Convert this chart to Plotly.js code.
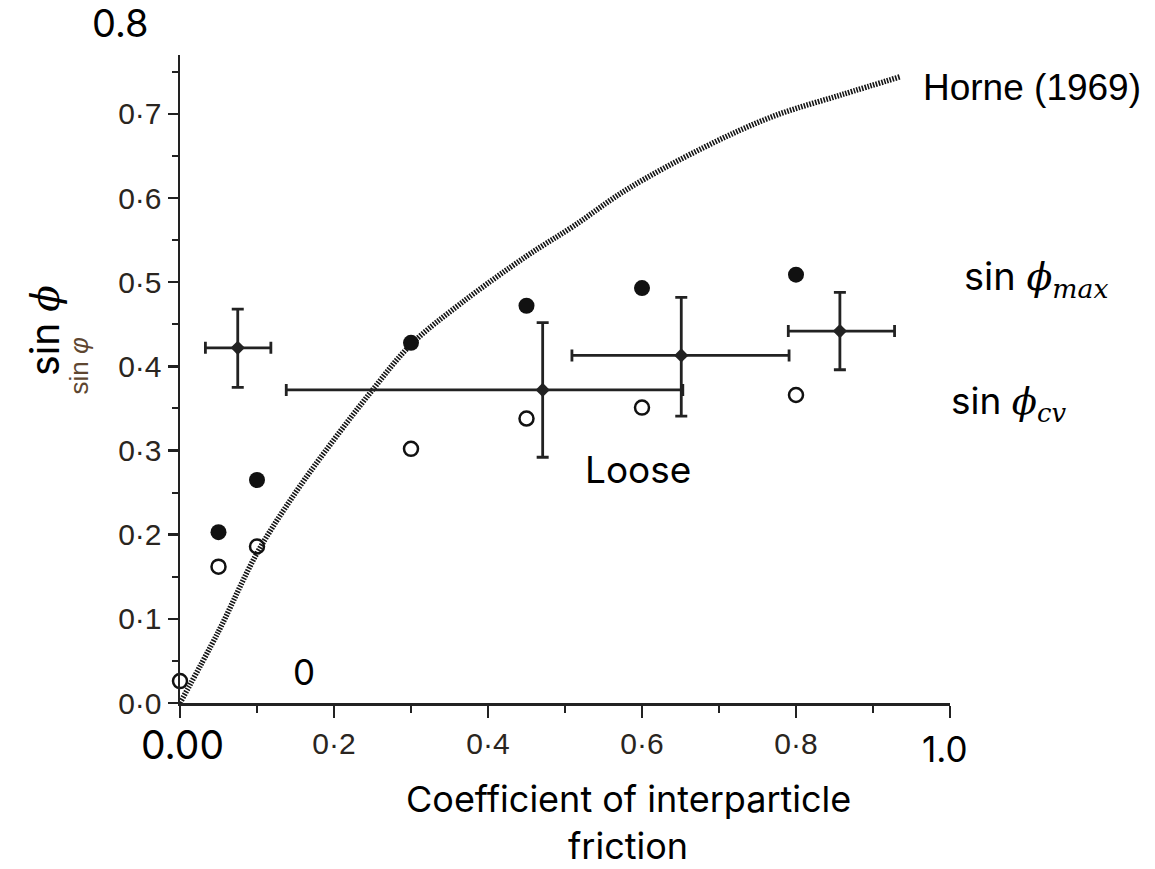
<!DOCTYPE html>
<html>
<head>
<meta charset="utf-8">
<script src="https://cdn.plot.ly/plotly-3.0.1.min.js"></script>
<style>html,body{margin:0;padding:0;background:#fff;}#chart{width:1155px;height:869px;}</style>
</head>
<body>
<div id="chart"></div>
<script>
// Horne (1969) theoretical curve
const horneX = [0.0, 0.05, 0.10, 0.15, 0.20, 0.25, 0.30, 0.365, 0.45, 0.51, 0.58, 0.68, 0.77, 0.86, 0.935];
const horneY = [0.0, 0.085, 0.178, 0.25, 0.313, 0.372, 0.426, 0.475, 0.531, 0.566, 0.610, 0.660, 0.697, 0.723, 0.744];

// sin phi_max (filled circles)
const maxX = [0.05, 0.10, 0.30, 0.45, 0.60, 0.80];
const maxY = [0.203, 0.265, 0.428, 0.472, 0.493, 0.509];

// sin phi_cv (open circles)
const cvX = [0.0, 0.05, 0.10, 0.30, 0.45, 0.60, 0.80];
const cvY = [0.026, 0.162, 0.186, 0.302, 0.338, 0.351, 0.366];

// data with error ranges (crosses)
const crossX = [0.075, 0.471, 0.651, 0.857];
const crossY = [0.422, 0.372, 0.413, 0.442];
const crossYHi = [0.468, 0.452, 0.482, 0.488];
const crossYLo = [0.375, 0.292, 0.341, 0.396];
const crossXLo = [0.033, 0.138, 0.509, 0.790];
const crossXHi = [0.118, 0.653, 0.791, 0.928];

// axis ticks
const xTickVals = [0, 0.2, 0.4, 0.6, 0.8, 1.0];
const xTickText = ['', '0·2', '0·4', '0·6', '0·8', ''];
const yTickVals = [0, 0.1, 0.2, 0.3, 0.4, 0.5, 0.6, 0.7];
const yTickText = ['0·0', '0·1', '0·2', '0·3', '0·4', '0·5', '0·6', '0·7'];

const Y_MAX = 0.77;
const ink = '#222222';
const overlayFont = 'Inter, Roboto, sans-serif';
const scanFont = '"Liberation Sans", Arial, sans-serif';

const traces = [
  {
    x: horneX, y: horneY, type: 'scatter', mode: 'lines',
    line: {color: '#151515', width: 5.5, dash: '1.6px,1.3px', shape: 'spline'},
    hoverinfo: 'skip', cliponaxis: false
  },
  {
    x: crossX, y: crossY, type: 'scatter', mode: 'markers',
    marker: {symbol: 'diamond', size: 11, color: ink},
    error_y: {type: 'data', symmetric: false,
      array: crossYHi.map((v, i) => v - crossY[i]),
      arrayminus: crossY.map((v, i) => v - crossYLo[i]),
      color: ink, thickness: 2.8, width: 6},
    error_x: {type: 'data', symmetric: false,
      array: crossXHi.map((v, i) => v - crossX[i]),
      arrayminus: crossX.map((v, i) => v - crossXLo[i]),
      color: ink, thickness: 2.8, width: 6},
    cliponaxis: false
  },
  {
    x: maxX, y: maxY, type: 'scatter', mode: 'markers',
    marker: {symbol: 'circle', size: 16, color: '#111111'},
    cliponaxis: false
  },
  {
    x: cvX, y: cvY, type: 'scatter', mode: 'markers',
    marker: {symbol: 'circle-open', size: 14, color: '#111111', line: {width: 2.5, color: '#111111'}},
    cliponaxis: false
  }
];

// annotation positioned in data units, converted to paper coordinates
function ann(text, x, y, size, opts) {
  return Object.assign({
    text: text, x: x, y: y / Y_MAX, xref: 'paper', yref: 'paper', showarrow: false,
    xanchor: 'center', yanchor: 'middle',
    font: {family: overlayFont, size: size, color: '#000'}
  }, opts || {});
}

const phiSpan = (t) => '<span style="font-family:\'DejaVu Serif\'"><i>' + t + '</i></span>';

const annotations = [
  ann('0.8', -0.077, 0.808, 38),
  ann('0.00', 0.003, -0.049, 39),
  ann('1.0', 0.994, -0.055, 35),
  ann('0', 0.161, 0.037, 35),
  ann('Loose', 0.595, 0.277, 37),
  ann('Coefficient of interparticle', 0.582, -0.1146, 36),
  ann('friction', 0.582, -0.1695, 36),
  ann('Horne (1969)', 0.962, 0.731, 37, {xanchor: 'left', font: {family: scanFont, size: 37, color: '#000'}}),
  ann('sin ' + phiSpan('ϕ') + '<sub>' + phiSpan('max') + '</sub>', 1.016, 0.505, 38, {xanchor: 'left'}),
  ann('sin ' + phiSpan('ϕ') + '<sub>' + phiSpan('cv') + '</sub>', 0.999, 0.357, 37, {xanchor: 'left'}),
  ann('sin ' + phiSpan('ϕ'), -0.177, 0.443, 39, {textangle: -90}),
  ann('sin <i>φ</i>', -0.131, 0.400, 26, {textangle: -90, font: {family: scanFont, size: 26, color: '#5e4630'}})
];

const layout = {
  width: 1155, height: 869,
  margin: {l: 180, r: 205, t: 55, b: 166, pad: 0},
  paper_bgcolor: '#ffffff', plot_bgcolor: '#ffffff',
  showlegend: false,
  xaxis: {
    range: [0, 1.0], showgrid: false, zeroline: false,
    showline: true, linecolor: ink, linewidth: 2.5,
    ticks: 'outside', ticklen: 12, tickwidth: 2.5, tickcolor: ink,
    tickvals: xTickVals, ticktext: xTickText,
    tickfont: {family: scanFont, size: 30, color: '#2a2520'},
    minor: {dtick: 0.1, ticks: 'outside', ticklen: 7, tickwidth: 2, tickcolor: ink, showgrid: false}
  },
  yaxis: {
    range: [0, Y_MAX], showgrid: false, zeroline: false,
    showline: true, linecolor: ink, linewidth: 2.5,
    ticks: 'outside', ticklen: 10, tickwidth: 2.5, tickcolor: ink,
    tickvals: yTickVals, ticktext: yTickText,
    tickfont: {family: scanFont, size: 30, color: '#2a2520'},
    minor: {dtick: 0.05, ticks: 'outside', ticklen: 6, tickwidth: 2, tickcolor: ink, showgrid: false}
  },
  annotations: annotations
};

Plotly.newPlot('chart', traces, layout, {displayModeBar: false, staticPlot: true});
</script>
</body>
</html>
